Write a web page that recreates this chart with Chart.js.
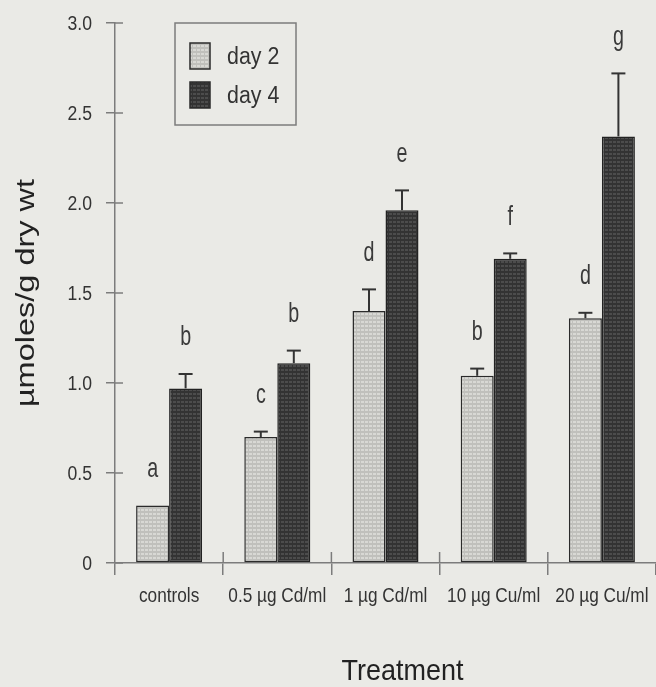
<!DOCTYPE html>
<html>
<head>
<meta charset="utf-8">
<script src="https://cdn.jsdelivr.net/npm/chart.js@4/dist/chart.umd.min.js"></script>
<style>
  html, body { margin: 0; padding: 0; background: #eaeae6; }
  #wrap { width: 656px; height: 687px; }
</style>
</head>
<body>
<div id="wrap"><canvas id="c" width="656" height="687"></canvas></div>
<script>
// ---- data ----
const categories = ['controls', '0.5 µg Cd/ml', '1 µg Cd/ml', '10 µg Cu/ml', '20 µg Cu/ml'];
const seriesNames = ['day 2', 'day 4'];
const day2 = [0.32, 0.70, 1.40, 1.04, 1.36];
const day4 = [0.97, 1.11, 1.96, 1.69, 2.37];
const day2Err = [0, 0.03, 0.12, 0.04, 0.03];
const day4Err = [0.08, 0.07, 0.11, 0.03, 0.35];
const day2Letters = ['a', 'c', 'd', 'b', 'd'];
const day4Letters = ['b', 'b', 'e', 'f', 'g'];
const yMin = 0, yMax = 3, yStep = 0.5;
const yAxisTitle = 'µmoles/g dry wt';
const xAxisTitle = 'Treatment';

const SANS = "'Liberation Sans', Arial, sans-serif";
const AXIS = '#7c7c7c';
const INK = '#333333';

function fmtY(v) { return v === 0 ? '0' : Number(v).toFixed(1); }

function makePattern(base, cell) {
  const c = document.createElement('canvas');
  c.width = 4; c.height = 4;
  const g = c.getContext('2d');
  g.fillStyle = base; g.fillRect(0, 0, 4, 4);
  g.fillStyle = cell; g.fillRect(1, 1, 3, 2);
  return g.createPattern(c, 'repeat');
}
const day2Fill = makePattern('#c0c0bc', '#d8d8d4');
const day4Fill = makePattern('#333333', '#4c4c4c');

const errors = [day2Err, day4Err];
const letters = [day2Letters, day4Letters];

// text drawn with the slight condensation / vertical stretch of the scanned figure
function txt(ctx, s, x, y, o) {
  ctx.save();
  ctx.translate(x, y);
  if (o.rot) ctx.rotate(o.rot);
  ctx.scale(o.sx || 1, o.sy || 1);
  ctx.font = o.font;
  ctx.fillStyle = o.color || INK;
  ctx.textAlign = o.align || 'center';
  ctx.textBaseline = o.baseline || 'middle';
  ctx.fillText(s, 0, 0);
  ctx.restore();
}

const decorPlugin = {
  id: 'decor',
  afterDraw(chart) {
    const ctx = chart.ctx;
    const y = chart.scales.y, x = chart.scales.x;
    const ca = chart.chartArea;
    ctx.save();
    // inner halves of the cross ticks
    ctx.strokeStyle = AXIS; ctx.lineWidth = 1.5;
    y.ticks.forEach(t => {
      const py = y.getPixelForValue(t.value);
      ctx.beginPath(); ctx.moveTo(ca.left, py); ctx.lineTo(ca.left + 8, py); ctx.stroke();
    });
    for (let i = 1; i < categories.length; i++) {
      const px = (x.getPixelForValue(i - 1) + x.getPixelForValue(i)) / 2;
      ctx.beginPath(); ctx.moveTo(px, ca.bottom); ctx.lineTo(px, ca.bottom - 11); ctx.stroke();
    }
    // tick labels
    y.ticks.forEach(t => {
      txt(ctx, fmtY(t.value), ca.left - 23, y.getPixelForValue(t.value) + 7,
        { font: '20px ' + SANS, sx: 0.88, align: 'right', baseline: 'alphabetic' });
    });
    chart.data.labels.forEach((lab, i) => {
      txt(ctx, lab, x.getPixelForValue(i), ca.bottom + 39,
        { font: '21px ' + SANS, sx: 0.82, baseline: 'alphabetic' });
    });
    // axis titles
    txt(ctx, yAxisTitle, 27, (ca.top + ca.bottom) / 2,
      { font: '25px ' + SANS, rot: -Math.PI / 2, sx: 1.3, color: '#222' });
    txt(ctx, xAxisTitle, (ca.left + ca.right) / 2 + 17, 672,
      { font: '27px ' + SANS, sy: 1.12, color: '#222' });
    // error bars + letters
    chart.data.datasets.forEach((ds, di) => {
      const meta = chart.getDatasetMeta(di);
      meta.data.forEach((bar, i) => {
        const v = ds.data[i], e = errors[di][i];
        const top = y.getPixelForValue(v + e);
        if (e > 0) {
          ctx.strokeStyle = INK; ctx.lineWidth = 2;
          ctx.beginPath(); ctx.moveTo(bar.x, bar.y); ctx.lineTo(bar.x, top); ctx.stroke();
          ctx.beginPath(); ctx.moveTo(bar.x - 7, top); ctx.lineTo(bar.x + 7, top); ctx.stroke();
        }
        txt(ctx, letters[di][i], bar.x, top - 36,
          { font: '24px ' + SANS, sx: 0.82, sy: 1.12, color: '#3a3a3a' });
      });
    });
    // legend box
    const lx = ca.left + 60, ly = ca.top, lw = 121, lh = 102;
    ctx.strokeStyle = AXIS; ctx.lineWidth = 1.5;
    ctx.strokeRect(lx, ly, lw, lh);
    chart.data.datasets.forEach((ds, di) => {
      const sy = ly + 20 + di * 39;
      ctx.fillStyle = ds.backgroundColor;
      ctx.fillRect(lx + 15, sy, 20, 26);
      ctx.strokeStyle = '#2b2b2b'; ctx.lineWidth = 1.5;
      ctx.strokeRect(lx + 15, sy, 20, 26);
      txt(ctx, ds.label, lx + 52, sy + 14,
        { font: '23px ' + SANS, sx: 0.93, sy: 1.08, align: 'left' });
    });
    ctx.restore();
  }
};

new Chart(document.getElementById('c'), {
  type: 'bar',
  data: {
    labels: categories,
    datasets: [
      { label: seriesNames[0], data: day2, backgroundColor: day2Fill, borderColor: '#2b2b2b', borderWidth: 1.5, borderSkipped: false },
      { label: seriesNames[1], data: day4, backgroundColor: day4Fill, borderColor: '#222222', borderWidth: 1.5, borderSkipped: false }
    ]
  },
  options: {
    responsive: false,
    animation: false,
    devicePixelRatio: 1,
    layout: { padding: { top: 23, left: 0, right: 0, bottom: 0 } },
    datasets: { bar: { categoryPercentage: 0.61, barPercentage: 1.0 } },
    plugins: { legend: { display: false }, tooltip: { enabled: false } },
    scales: {
      x: {
        grid: {
          offset: true, drawOnChartArea: false, drawTicks: true, tickLength: 12,
          color: (c) => (c.index === categories.length ? 'rgba(0,0,0,0)' : AXIS), lineWidth: 1.5
        },
        border: { display: true, color: AXIS, width: 1.5 },
        ticks: { display: false },
        afterFit: (s) => { s.height = 124; }
      },
      y: {
        min: yMin, max: yMax,
        grid: { drawOnChartArea: false, drawTicks: true, tickLength: 9, color: AXIS, lineWidth: 1.5 },
        border: { display: true, color: AXIS, width: 1.5 },
        ticks: { stepSize: yStep, display: false, callback: fmtY },
        afterFit: (s) => { s.width = 115; }
      }
    }
  },
  plugins: [decorPlugin]
});
</script>
</body>
</html>
